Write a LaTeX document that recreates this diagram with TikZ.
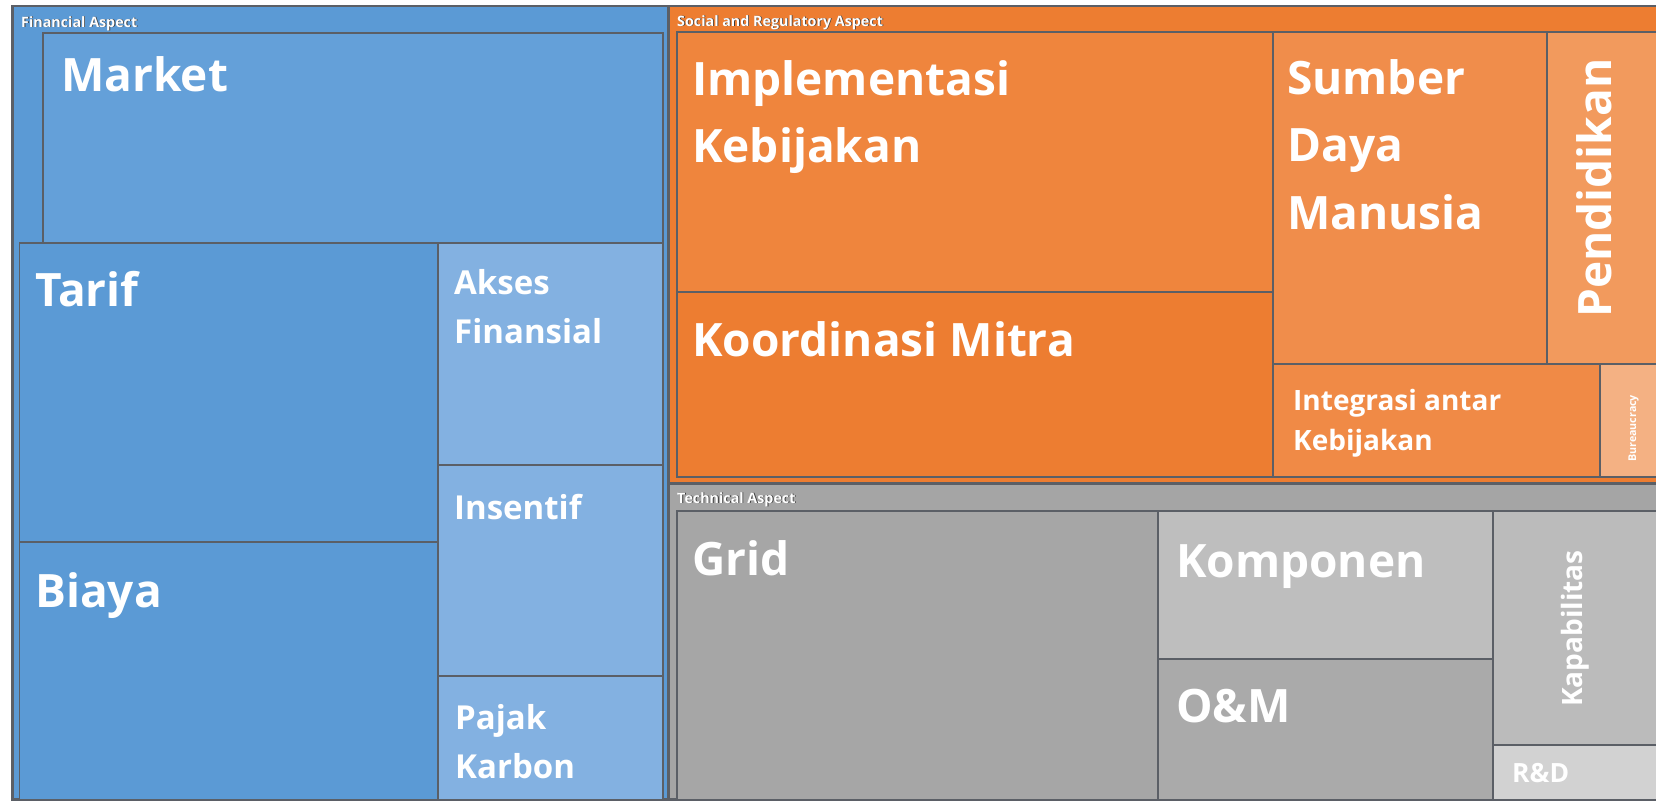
\documentclass[tikz,border=0pt]{standalone}
\usepackage{fontspec}
\setmainfont{Open Sans}
\definecolor{finbg}{HTML}{5B9AD5}
\definecolor{market}{HTML}{64A0D9}
\definecolor{finlight}{HTML}{83B1E1}
\definecolor{socbg}{HTML}{ED7D31}
\definecolor{impl}{HTML}{EF853D}
\definecolor{koord}{HTML}{ED7D31}
\definecolor{sdm}{HTML}{F08D4B}
\definecolor{pend}{HTML}{F29A5D}
\definecolor{integ}{HTML}{F08A46}
\definecolor{bureau}{HTML}{F4B183}
\definecolor{techbg}{HTML}{A5A5A5}
\definecolor{gridc}{HTML}{A6A6A6}
\definecolor{komp}{HTML}{BEBEBE}
\definecolor{omc}{HTML}{AAAAAA}
\definecolor{kapab}{HTML}{BBBBBB}
\definecolor{rnd}{HTML}{D2D2D2}
\definecolor{edge}{HTML}{5B5F66}
\definecolor{shadowc}{HTML}{3A3A3A}
\begin{document}
\begin{tikzpicture}[x=1pt,y=-1pt,
  panel/.style={draw=edge,line width=2.2pt},
  cell/.style={draw=edge,line width=1.6pt},
  lbl/.style={text=white,anchor=base west,inner sep=0pt,font=\bfseries\fontsize{46}{50}\selectfont},
  mid/.style={lbl,font=\bfseries\fontsize{33}{36}\selectfont},
  sml/.style={lbl,font=\bfseries\fontsize{28}{30}\selectfont},
  ttl/.style={text=white,anchor=base west,inner sep=0pt,font=\bfseries\fontsize{14.3}{16}\selectfont},
  ttlsh/.style={ttl,text=shadowc}]
\useasboundingbox (0,0) rectangle (1656,801);
\clip (0,0) rectangle (1656,801);
\fill[white] (0,0) rectangle (1656,801);
% panels
\filldraw[panel,fill=finbg] (12.5,6) rectangle (668.5,799.5);
\filldraw[panel,fill=socbg] (668.5,6) rectangle (1680,483.5);
\filldraw[panel,fill=techbg] (668.5,483.5) rectangle (1680,799.5);
% financial cells
\filldraw[cell,fill=market] (43,33) rectangle (663,243);
\filldraw[cell,fill=finbg] (19.5,243) rectangle (438,542);
\filldraw[cell,fill=finbg] (19.5,542) rectangle (438,799.5);
\filldraw[cell,fill=finlight] (438,243) rectangle (663,465);
\filldraw[cell,fill=finlight] (438,465) rectangle (663,676);
\filldraw[cell,fill=finlight] (438,676) rectangle (663,799.5);
% social cells
\filldraw[cell,fill=impl] (677,32) rectangle (1273,292);
\filldraw[cell,fill=koord] (677,292) rectangle (1273,477);
\filldraw[cell,fill=sdm] (1273,32) rectangle (1547,364);
\filldraw[cell,fill=pend] (1547,32) rectangle (1680,364);
\filldraw[cell,fill=integ] (1273,364) rectangle (1600,477);
\filldraw[cell,fill=bureau] (1600,364) rectangle (1680,477);
% technical cells
\filldraw[cell,fill=gridc] (677,511) rectangle (1158,799.5);
\filldraw[cell,fill=komp] (1158,511) rectangle (1493,659);
\filldraw[cell,fill=omc] (1158,659) rectangle (1493,799.5);
\filldraw[cell,fill=kapab] (1493,511) rectangle (1680,745);
\filldraw[cell,fill=rnd] (1493,745) rectangle (1680,799.5);
% panel titles
\node[ttlsh] (fintsh) at (21.8,27.8) {Financial Aspect};
\node[ttl] (fint) at (21,27) {Financial Aspect};
\node[ttlsh] (soctsh) at (677.8,26.8) {Social and Regulatory Aspect};
\node[ttl] (soct) at (677,26) {Social and Regulatory Aspect};
\node[ttlsh] (techtsh) at (677.8,503.8) {Technical Aspect};
\node[ttl] (techt) at (677,503) {Technical Aspect};
% financial labels
\node[lbl] (market) at (61,91) {Market};
\node[lbl] (tarif) at (35,306) {Tarif};
\node[lbl] (biaya) at (35,607) {Biaya};
\node[mid] (akses1) at (454,294) {Akses};
\node[mid] (akses2) at (454,343) {Finansial};
\node[mid] (insentif) at (454,519) {Insentif};
\node[mid] (pajak1) at (455,729) {Pajak};
\node[mid] (pajak2) at (455,778) {Karbon};
% social labels
\node[lbl] (impl1) at (692,95) {Implementasi};
\node[lbl] (impl2) at (692,162) {Kebijakan};
\node[lbl] (koord) at (692,356) {Koordinasi Mitra};
\node[lbl] (sdm1) at (1287,94) {Sumber};
\node[lbl] (sdm2) at (1287,161) {Daya};
\node[lbl] (sdm3) at (1287,229) {Manusia};
\node[lbl,rotate=90] (pend) at (1611,318) {Pendidikan};
\node[sml] (integ1) at (1293,410) {Integrasi antar};
\node[sml] (integ2) at (1293,450) {Kebijakan};
\node[lbl,rotate=90,font=\bfseries\fontsize{10.7}{12}\selectfont] (bureau) at (1636,462) {Bureaucracy};
% technical labels
\node[lbl] (grid) at (692,575) {Grid};
\node[lbl] (komp) at (1176,577) {Komponen};
\node[lbl] (om) at (1176,722) {O\&M};
\node[lbl,rotate=90,font=\bfseries\fontsize{28}{30}\selectfont] (kapab) at (1582,707) {Kapabilitas};
\node[lbl,font=\bfseries\fontsize{26.5}{28}\selectfont] (rnd) at (1512,782) {R\&D};
\end{tikzpicture}
\end{document}
